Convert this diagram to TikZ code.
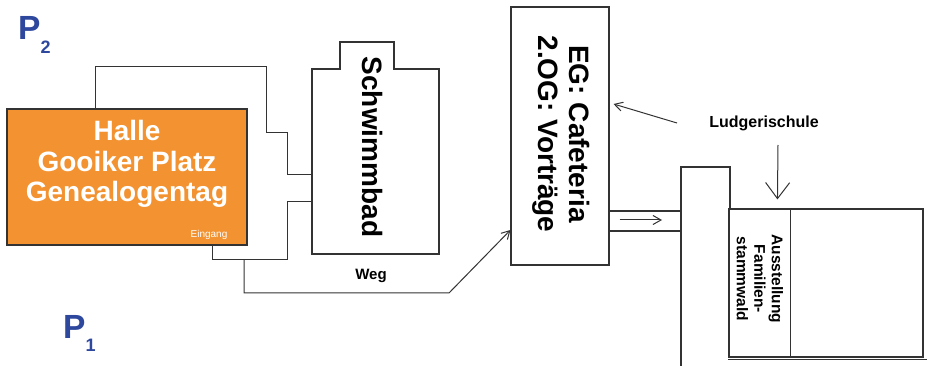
\documentclass[tikz,border=0pt]{standalone}
\usepackage{fontspec}
\setmainfont{Liberation Sans}
\usetikzlibrary{positioning, arrows.meta}
\definecolor{hallorange}{RGB}{242,146,48}
\definecolor{parkblue}{RGB}{46,72,158}
\newcommand{\parkP}[2]{P\kern#2\raisebox{-13.5pt}{\fontsize{18}{18}\selectfont #1}}

\begin{document}
\begin{tikzpicture}[
    x=1pt, y=-1pt,
    wall/.style={draw=black!80, line width=1.1pt},
    gang/.style={draw=black!80, line width=1pt},
    house/.style={wall, inner sep=0pt},
    big/.style={font=\fontsize{28}{30.5}\selectfont\bfseries, align=center, inner sep=0pt},
    small/.style={font=\fontsize{15.5}{17.5}\selectfont\bfseries, align=center, inner sep=0pt},
    park/.style={font=\fontsize{33.5}{36}\selectfont\bfseries, text=parkblue, anchor=base west, inner sep=0pt},
    pfeil/.style={gang, -{Straight Barb[length=8pt, width=9pt]}},
  ]
    \fill[white] (0,0) rectangle (927,366);
    \useasboundingbox (0,0) rectangle (927,366);

    \node[park] (p2) at (18,40) {\parkP{2}{0pt}};
    \node[park] (p1) at (63,338) {\parkP{1}{0pt}};

    % Halle
    \node[house, fill=hallorange, minimum width=240pt, minimum height=136pt] (halle) at (127,177) {};
    \node[big, text=white] (halletext) at (127,164) {Halle\\Gooiker Platz\\Genealogentag};
    \node[font=\fontsize{10}{12}\selectfont, text=white, inner sep=0pt] (eingang) at (209,235) {Eingang};

    % Schwimmbad
    \draw[wall] (312,69) -| (340,42) -| (394,69) -| (439,254) -| (312,69) -- cycle;
    \node[big, rotate=-90] (badtext) at (373,147) {Schwimmbad};
    \coordinate (badA) at (312,175);
    \coordinate (badB) at (312,202);

    % Ludgerischule
    \node[house, minimum width=98pt, minimum height=258pt] (cafe) at (560,136) {};
    \node[big, rotate=-90] (cafetext) at (561,134) {EG: Cafeteria\\2.OG: Vorträge};
    \coordinate (turm) at (681,167);
    \draw[wall] (681,367) |- (turm) -| (730,209);
    \draw[wall] ([yshift=-75pt]cafe.east) -- (turm |- 0,211);
    \draw[wall] ([yshift=-95pt]cafe.east) -- (turm |- 0,231);
    \node[house, minimum width=194pt, minimum height=148pt] (ausst) at (826,283) {};
    \draw[wall] ([xshift=62pt]ausst.north west) -- ([xshift=62pt]ausst.south west);
    \draw[wall] (ausst.south west |- 0,359.5) -- (927,359.5);
    \node[small, rotate=-90] (ausstext) at (760,279) {Ausstellung\\Familien-\\stammwald};

    % Wege
    \draw[gang] ([xshift=89pt]halle.north west) |- (266,67) |- (287,133) |- (badA);
    \draw[gang] ([xshift=206pt]halle.south west) |- (287,260) |- (badB);
    \coordinate (wegstart) at (244,260);
    \draw[pfeil] (wegstart) |- (449,293) -- ([yshift=-94pt]cafe.west);
    \node[font=\fontsize{15}{18}\selectfont\bfseries, inner sep=0pt] (weg) at (371,276) {Weg};
    \draw[pfeil] ([xshift=10pt, yshift=-84pt]cafe.east) -- (662,220);

    \node[font=\fontsize{16}{18}\selectfont\bfseries, inner sep=0pt] (ludger) at (764,123) {Ludgerischule};
    \draw[pfeil] (677,123) -- ([xshift=4pt, yshift=32pt]cafe.east);
    \draw[gang, -{Straight Barb[length=16pt, width=24pt]}] (778,145) -- ([xshift=49pt, yshift=9pt]ausst.north west);
  \end{tikzpicture}
\end{document}
